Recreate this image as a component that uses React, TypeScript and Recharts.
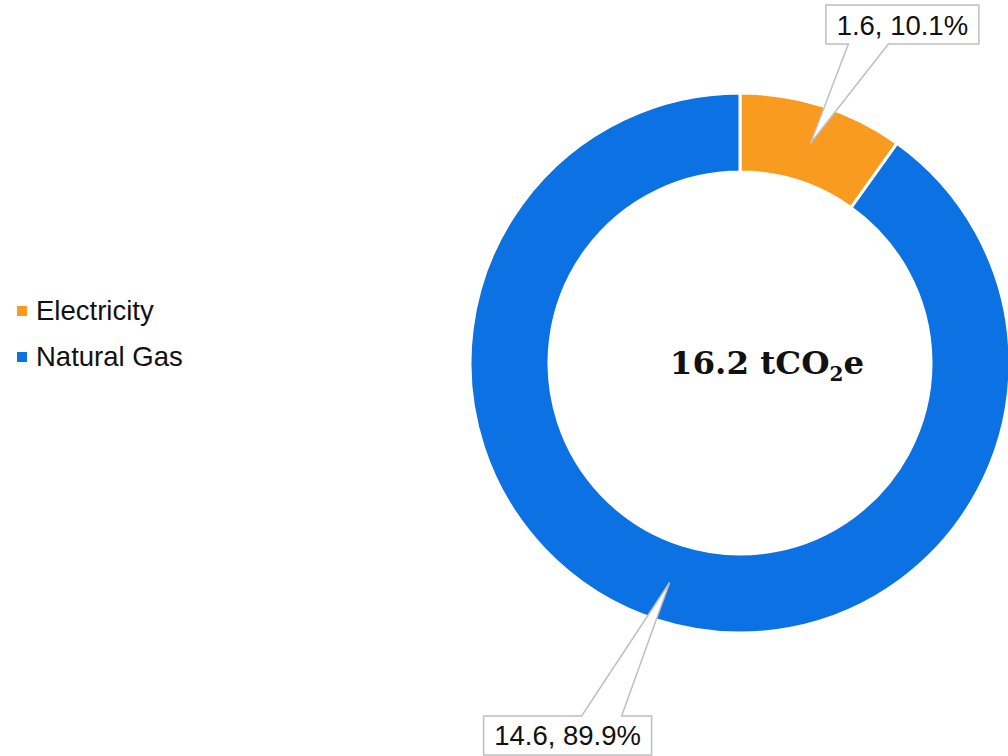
import React from "react";
import { PieChart, Pie, Cell } from "recharts";

const SOURCES = ["Electricity", "Natural Gas"];
const EMISSIONS = [1.6, 14.6];
const SHARES = [10.1, 89.9];
const TOTAL_LABEL = "16.2";
const COLORS = ["#F99B1F", "#0C71E2"];

const data = SOURCES.map((name, i) => ({ name, value: EMISSIONS[i], share: SHARES[i] }));

const RAD = Math.PI / 180;
const FONT = "'Liberation Sans', Arial, sans-serif";

// where each callout box sits relative to its pointer tip
const CALLOUT_OFFSET = [
    { dx: 92, dy: -119 },
    { dx: -102, dy: 153 },
];

function CenterTotal({ cx, cy }: { cx: number; cy: number }) {
    return (
        <text
            x={cx + 27}
            y={cy + 11}
            textAnchor="middle"
            fontFamily="'DejaVu Serif', Georgia, serif"
            fontWeight="bold"
            fontSize={32.5}
            fill="#111"
        >
            {TOTAL_LABEL} tCO
            <tspan fontSize={20} dy={7}>2</tspan>
            <tspan dy={-7}>e</tspan>
        </text>
    );
}

function Callout(props: any) {
    const { cx, cy, midAngle, innerRadius, outerRadius, index } = props;
    const r = (innerRadius + outerRadius) / 2;
    const tx = cx + r * Math.cos(-midAngle * RAD);
    const ty = cy + r * Math.sin(-midAngle * RAD);
    const off = CALLOUT_OFFSET[index];
    const text = `${EMISSIONS[index]}, ${SHARES[index]}%`;
    const w = text.length * 15 + 3;
    const h = 39;
    const bx = tx + off.dx;
    const by = ty + off.dy;
    const left = bx - w / 2;
    const right = bx + w / 2;
    const top = by - h / 2;
    const bottom = by + h / 2;
    const baseMid = bx - Math.sign(off.dx) * 34;
    const b0 = baseMid - 20;
    const b1 = baseMid + 20;
    const d =
        off.dy < 0
            ? `M${left},${top} L${right},${top} L${right},${bottom} L${b1},${bottom} L${tx},${ty} L${b0},${bottom} L${left},${bottom} Z`
            : `M${left},${top} L${b0},${top} L${tx},${ty} L${b1},${top} L${right},${top} L${right},${bottom} L${left},${bottom} Z`;
    return (
        <g>
            {index === 0 && <CenterTotal cx={cx} cy={cy} />}
            <path d={d} fill="#fff" stroke="#BFBFBF" strokeWidth={1.5} strokeLinejoin="miter" />
            <text
                x={bx}
                y={by + 10}
                textAnchor="middle"
                fontFamily={FONT}
                fontSize={27.5}
                fill="#111"
            >
                {text}
            </text>
        </g>
    );
}

function SourceLegend() {
    return (
        <ul
            style={{
                position: "absolute",
                left: 17,
                top: 288,
                listStyle: "none",
                margin: 0,
                padding: 0,
                fontFamily: FONT,
            }}
        >
            {SOURCES.map((name, i) => (
                <li
                    key={name}
                    style={{ display: "flex", alignItems: "center", height: 46, fontSize: 27.5, color: "#111" }}
                >
                    <span
                        style={{
                            width: 10,
                            height: 10,
                            background: COLORS[i],
                            marginRight: 9,
                            display: "inline-block",
                        }}
                    />
                    {name}
                </li>
            ))}
        </ul>
    );
}

export default function App() {
    return (
        <div style={{ position: "absolute", left: 0, top: 0, width: 1008, height: 756, background: "#fff", overflow: "hidden" }}>
            <PieChart width={1008} height={756} margin={{ top: 0, right: 0, bottom: 0, left: 0 }}>
                <Pie
                    data={data}
                    dataKey="value"
                    nameKey="name"
                    cx={740}
                    cy={363}
                    innerRadius={191}
                    outerRadius={270}
                    startAngle={90}
                    endAngle={-270}
                    stroke="#fff"
                    strokeWidth={3}
                    label={Callout}
                    labelLine={false}
                    isAnimationActive={false}
                >
                    {data.map((d, i) => (
                        <Cell key={d.name} fill={COLORS[i]} />
                    ))}
                </Pie>
            </PieChart>
            <SourceLegend />
        </div>
    );
}
